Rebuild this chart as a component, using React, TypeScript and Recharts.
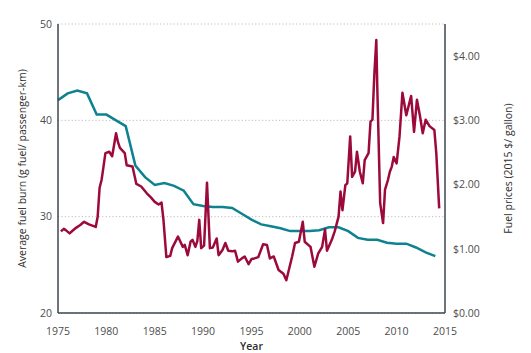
import React from 'react';
import { LineChart, Line, XAxis, YAxis, CartesianGrid } from 'recharts';

// Average fuel burn, annual
const burnYears = [
  1975, 1976, 1977, 1978, 1979, 1980, 1981, 1982, 1983, 1984, 1985, 1986, 1987, 1988,
  1989, 1990, 1991, 1992, 1993, 1994, 1995, 1996, 1997, 1998, 1999, 2000, 2001, 2002,
  2003, 2004, 2005, 2006, 2007, 2008, 2009, 2010, 2011, 2012, 2013, 2014,
];
const burnValues = [
  42.1, 42.8, 43.1, 42.8, 40.6, 40.6, 40.0, 39.4, 35.3, 34.1, 33.3, 33.5, 33.2, 32.7,
  31.3, 31.1, 31.0, 31.0, 30.9, 30.3, 29.7, 29.2, 29.0, 28.8, 28.5, 28.5, 28.5, 28.6,
  28.9, 28.9, 28.5, 27.8, 27.6, 27.6, 27.3, 27.2, 27.2, 26.8, 26.3, 25.9,
];

// Fuel prices (2015 $/gallon)
const priceDates = [
  1975.3, 1975.6, 1975.8, 1976.2, 1976.5, 1976.9, 1977.3, 1977.7, 1978.2, 1978.9,
  1979.1, 1979.3, 1979.5, 1979.6, 1979.9, 1980.3, 1980.6, 1981.0, 1981.2, 1981.4,
  1981.9, 1982.1, 1982.7, 1983.1, 1983.6, 1984.2, 1984.6, 1985.0, 1985.4, 1985.7,
  1985.9, 1986.2, 1986.6, 1986.8, 1987.4, 1987.9, 1988.1, 1988.4, 1988.7, 1988.9,
  1989.2, 1989.4, 1989.6, 1989.8, 1990.1, 1990.4, 1990.7, 1991.0, 1991.4, 1991.6,
  1992.0, 1992.3, 1992.6, 1993.0, 1993.3, 1993.6, 1994.0, 1994.3, 1994.7, 1995.0,
  1995.3, 1995.7, 1996.2, 1996.6, 1996.9, 1997.3, 1997.8, 1998.3, 1998.6, 1999.2,
  1999.5, 1999.9, 2000.3, 2000.5, 2001.1, 2001.5, 2001.9, 2002.3, 2002.6, 2002.8,
  2003.3, 2003.6, 2004.0, 2004.2, 2004.4, 2004.7, 2004.9, 2005.2, 2005.4, 2005.7,
  2005.9, 2006.2, 2006.5, 2006.7, 2007.1, 2007.3, 2007.5, 2007.7, 2007.9, 2008.0,
  2008.3, 2008.6, 2008.8, 2009.1, 2009.3, 2009.5, 2009.7, 2010.0, 2010.3, 2010.6,
  2011.0, 2011.5, 2011.8, 2012.1, 2012.4, 2012.7, 2013.0, 2013.4, 2013.9, 2014.1,
  2014.4,
];
const priceValues = [
  1.27, 1.31, 1.29, 1.24, 1.28, 1.33, 1.37, 1.42, 1.38, 1.34,
  1.5, 1.95, 2.07, 2.17, 2.49, 2.51, 2.44, 2.8, 2.66, 2.57,
  2.49, 2.3, 2.28, 2.01, 1.97, 1.86, 1.8, 1.73, 1.69, 1.72,
  1.45, 0.87, 0.89, 1.01, 1.19, 1.03, 1.06, 0.9, 1.11, 1.14,
  1.03, 1.12, 1.45, 1.01, 1.05, 2.03, 1.01, 1.02, 1.16, 0.9,
  0.98, 1.09, 0.97, 0.96, 0.97, 0.8, 0.85, 0.88, 0.76, 0.84,
  0.85, 0.87, 1.07, 1.06, 0.85, 0.88, 0.67, 0.61, 0.51, 0.88,
  1.09, 1.11, 1.42, 1.11, 1.03, 0.72, 0.93, 1.03, 1.3, 0.97,
  1.14, 1.27, 1.5, 1.89, 1.6, 1.99, 2.02, 2.75, 2.12, 2.2,
  2.51, 2.2, 2.02, 2.38, 2.49, 2.98, 3.01, 3.73, 4.25, 3.52,
  1.71, 1.4, 1.92, 2.07, 2.2, 2.28, 2.43, 2.33, 2.75, 3.43,
  3.08, 3.38, 2.82, 3.32, 3.08, 2.8, 3.01, 2.91, 2.85, 2.49,
  1.63,
];

const yearTicks = [1975, 1980, 1985, 1990, 1995, 2000, 2005, 2010, 2015];
const burnTicks = [20, 30, 40, 50];
const priceTicks = [0, 1, 2, 3, 4];

const burnData = burnYears.map((x, i) => ({ x, burn: burnValues[i] }));
const priceData = priceDates.map((x, i) => ({ x, price: priceValues[i] }));

const FONT = '"Open Sans", sans-serif';
const AXIS = '#3c4650';
const tickStyle = { fontSize: 10.5, fill: '#4d4d4d', fontFamily: FONT };
const titleStyle = { fontSize: 10.5, fill: '#2e2e2e', fontWeight: 500, fontFamily: FONT, textAnchor: 'middle' as const };

export default function App() {
  return (
    <div style={{ position: 'absolute', left: 0, top: 0, background: '#fff' }}>
      <LineChart width={531} height={353} margin={{ top: 24, right: 0, bottom: 0, left: 0 }}>
        <CartesianGrid yAxisId="left" horizontal vertical={false} stroke="#bdbdbd" strokeDasharray="1.2 2.2" />
        <XAxis
          dataKey="x"
          type="number"
          domain={[1975, 2015]}
          ticks={yearTicks}
          allowDuplicatedCategory={false}
          height={40}
          tickLine={false}
          tickMargin={9}
          tick={tickStyle}
          stroke={AXIS}
          strokeWidth={1.5}
          label={{ value: 'Year', position: 'insideBottom', offset: 3, style: { ...titleStyle, fontWeight: 600 } }}
        />
        <YAxis
          yAxisId="left"
          domain={[20, 50]}
          ticks={burnTicks}
          width={58}
          tickLine={false}
          tickSize={4}
          tick={tickStyle}
          stroke={AXIS}
          strokeWidth={1.5}
          label={{
            value: 'Average fuel burn (g fuel/ passenger-km)',
            angle: -90,
            position: 'insideLeft',
            offset: 22,
            style: titleStyle,
          }}
        />
        <YAxis
          yAxisId="right"
          orientation="right"
          domain={[0, 4.5]}
          ticks={priceTicks}
          width={86}
          tickLine={false}
          tick={tickStyle}
          tickFormatter={(v: number) => `$${v.toFixed(2)}`}
          stroke={AXIS}
          strokeWidth={1.5}
          label={{
            value: 'Fuel prices (2015 $/ gallon)',
            angle: -90,
            position: 'insideRight',
            offset: 23,
            style: titleStyle,
          }}
        />
        <Line
          yAxisId="left"
          data={burnData}
          dataKey="burn"
          type="linear"
          stroke="#0e8290"
          strokeWidth={2.5}
          dot={false}
          isAnimationActive={false}
        />
        <Line
          yAxisId="right"
          data={priceData}
          dataKey="price"
          type="linear"
          stroke="#9c0a3c"
          strokeWidth={2.5}
          strokeLinejoin="round"
          dot={false}
          isAnimationActive={false}
        />
      </LineChart>
    </div>
  );
}
